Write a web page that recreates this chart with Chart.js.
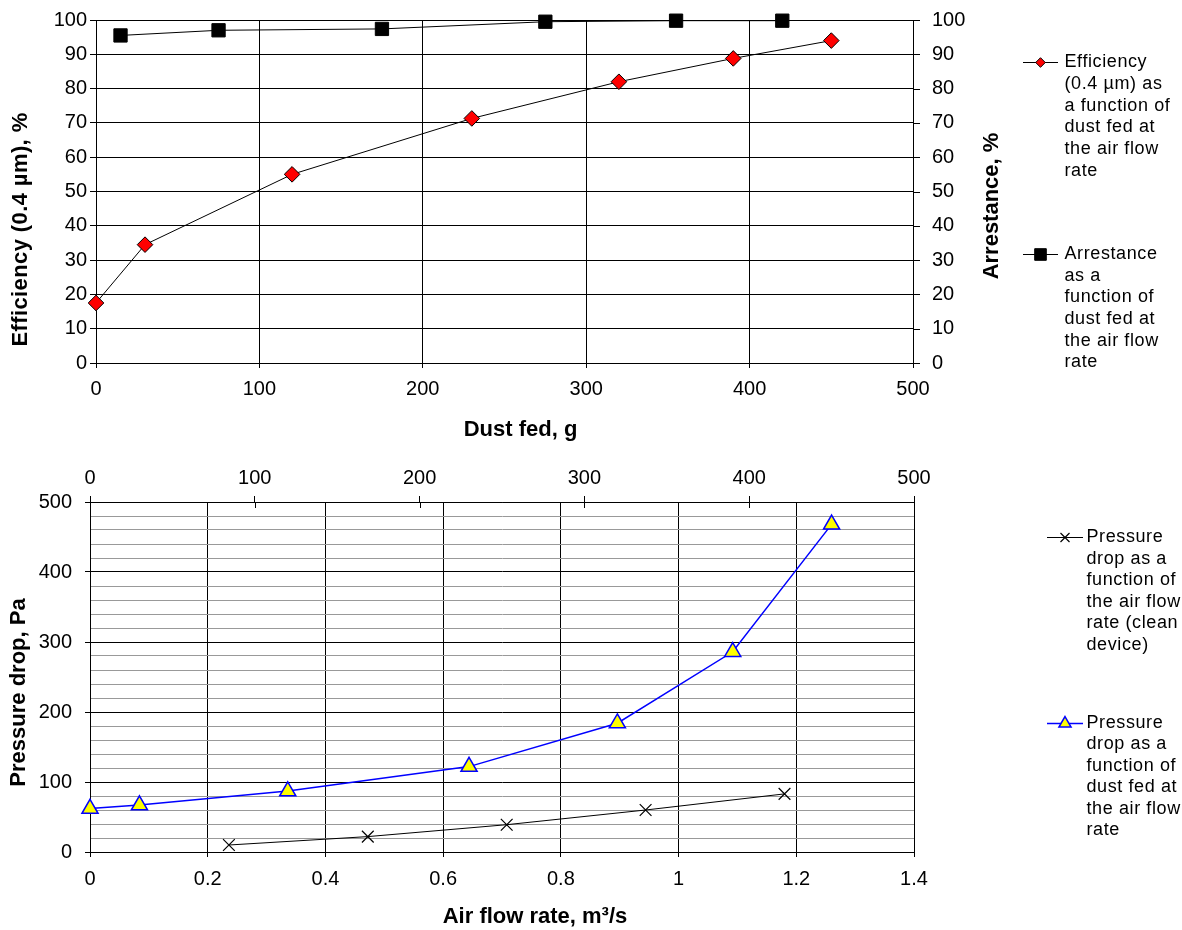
<!DOCTYPE html>
<html><head><meta charset="utf-8">
<style>
html,body{margin:0;padding:0;background:#fff;}
#wrap{position:relative;width:1182px;height:930px;overflow:hidden;background:#fff;}
canvas{position:absolute;left:0;}
#c1{top:0;} #c2{top:450px;}
</style>
<script src="https://cdn.jsdelivr.net/npm/chart.js"></script>
</head><body>
<div id="wrap"><canvas id="c1" width="1182" height="450"></canvas><canvas id="c2" width="1182" height="480"></canvas></div>
<script>
const FONT = "'Liberation Sans', Arial, Helvetica, sans-serif";

// ---- Top chart data ----
const dustFedEfficiency = [0, 30, 120, 230, 320, 390, 450];
const efficiency = [17.5, 34.5, 55, 71.3, 82, 88.8, 94];
const dustFedArrestance = [15, 75, 175, 275, 355, 420];
const arrestance = [95.5, 97, 97.4, 99.5, 99.8, 99.8];

// ---- Bottom chart data ----
const airFlowRate = [0.236, 0.472, 0.708, 0.944, 1.18];
const pressureDropClean = [10, 22, 39, 60, 83];
const dustFedPressure = [0, 30, 120, 230, 320, 390, 450];
const pressureDropDust = [62, 67, 87, 122, 184, 286, 468];

// ---- Text ----
const legendEfficiency = ["Efficiency", "(0.4 µm) as", "a function of", "dust fed at", "the air flow", "rate"];
const legendArrestance = ["Arrestance", "as a", "function of", "dust fed at", "the air flow", "rate"];
const legendClean = ["Pressure", "drop as a", "function of", "the air flow", "rate (clean", "device)"];
const legendDust = ["Pressure", "drop as a", "function of", "dust fed at", "the air flow", "rate"];
const titleEfficiency = "Efficiency (0.4 µm), %";
const titleArrestance = "Arrestance, %";
const titleDustFed = "Dust fed, g";
const titlePressure = "Pressure drop, Pa";
const titleAirFlow = "Air flow rate, m³/s";

const toXY = (xs, ys) => xs.map((x, i) => ({x: x, y: ys[i]}));

function drawMarker(ctx, style, x, y, r, fill, stroke, lw) {
  ctx.save();
  ctx.fillStyle = fill; ctx.strokeStyle = stroke; ctx.lineWidth = lw;
  ctx.beginPath();
  if (style === 'rectRot') {
    ctx.moveTo(x - r, y); ctx.lineTo(x, y - r); ctx.lineTo(x + r, y); ctx.lineTo(x, y + r); ctx.closePath();
    ctx.fill(); ctx.stroke();
  } else if (style === 'rect') {
    ctx.rect(x - r, y - r, 2 * r, 2 * r); ctx.fill(); ctx.stroke();
  } else if (style === 'triangle') {
    ctx.moveTo(x, y - r); ctx.lineTo(x + r * 0.866, y + r * 0.5); ctx.lineTo(x - r * 0.866, y + r * 0.5); ctx.closePath();
    ctx.fill(); ctx.stroke();
  } else if (style === 'crossRot') {
    ctx.moveTo(x - r, y - r); ctx.lineTo(x + r, y + r); ctx.moveTo(x + r, y - r); ctx.lineTo(x - r, y + r); ctx.stroke();
  }
  ctx.restore();
}

const decor = {
  id: 'decor',
  afterDraw(chart, args, opts) {
    const ctx = chart.ctx;
    ctx.save();
    (opts.titles || []).forEach(t => {
      ctx.save();
      ctx.translate(t.x, t.y);
      ctx.rotate(t.rot || 0);
      ctx.font = 'bold 22px ' + FONT;
      if ('letterSpacing' in ctx) ctx.letterSpacing = (t.ls || 0) + 'px';
      ctx.fillStyle = '#000';
      ctx.textAlign = 'center';
      ctx.textBaseline = 'middle';
      ctx.fillText(t.text, 0, 0);
      ctx.restore();
    });
    (opts.legend || []).forEach(item => {
      const ds = chart.data.datasets[item.dataset];
      ctx.strokeStyle = ds.borderColor; ctx.lineWidth = ds.borderWidth;
      ctx.beginPath(); ctx.moveTo(item.x1, item.y + 0.5); ctx.lineTo(item.x2, item.y + 0.5); ctx.stroke();
      drawMarker(ctx, ds.pointStyle, (item.x1 + item.x2) / 2, item.y + 0.5, item.r,
                 ds.pointBackgroundColor, ds.pointBorderColor, ds.pointBorderWidth);
      ctx.save();
      ctx.font = '18px ' + FONT; ctx.textAlign = 'left'; ctx.textBaseline = 'middle'; ctx.fillStyle = '#000';
      if ('letterSpacing' in ctx) ctx.letterSpacing = '0.6px';
      item.lines.forEach((s, i) => ctx.fillText(s, item.tx, item.y + i * item.lh));
      ctx.restore();
    });
    // inward tick halves on the top axis of the lower chart
    if (opts.innerTicks) {
      const s = chart.scales[opts.innerTicks];
      ctx.strokeStyle = '#000'; ctx.lineWidth = 1;
      s.ticks.forEach(t => {
        const px = Math.round(s.getPixelForValue(t.value)) + 0.5;
        ctx.beginPath(); ctx.moveTo(px, s.bottom); ctx.lineTo(px, s.bottom + 6); ctx.stroke();
      });
    }
    // short outward tick marks on the right value axis
    if (opts.rightTicks) {
      const s = chart.scales[opts.rightTicks];
      ctx.strokeStyle = '#000'; ctx.lineWidth = 1;
      s.ticks.forEach(t => {
        const py = Math.round(s.getPixelForValue(t.value)) + 0.5;
        ctx.beginPath(); ctx.moveTo(s.left, py); ctx.lineTo(s.left + 7, py); ctx.stroke();
      });
    }
    ctx.restore();
  }
};

const tickFont = {family: FONT, size: 20};

// ---------- Top chart ----------
new Chart(document.getElementById('c1'), {
  type: 'scatter',
  data: {
    datasets: [
      {
        label: legendEfficiency.join(' '),
        data: toXY(dustFedEfficiency, efficiency),
        showLine: true, borderColor: '#000', borderWidth: 1, backgroundColor: '#ff0000',
        pointStyle: 'rectRot', pointRadius: 7.8, pointHoverRadius: 7.8,
        pointBackgroundColor: '#ff0000', pointBorderColor: '#000', pointBorderWidth: 1,
        xAxisID: 'x', yAxisID: 'y', clip: false, order: 1
      },
      {
        label: legendArrestance.join(' '),
        data: toXY(dustFedArrestance, arrestance),
        showLine: true, borderColor: '#000', borderWidth: 1, backgroundColor: '#000',
        pointStyle: 'rect', pointRadius: 9.4, pointHoverRadius: 9.4,
        pointBackgroundColor: '#000', pointBorderColor: '#000', pointBorderWidth: 1,
        xAxisID: 'x', yAxisID: 'y2', clip: false, order: 0
      }
    ]
  },
  options: {
    responsive: false, animation: false, devicePixelRatio: 1,
    layout: {autoPadding: false, padding: {left: 0, right: 172, top: 20, bottom: 0}},
    plugins: {
      legend: {display: false}, tooltip: {enabled: false},
      decor: {
        rightTicks: 'y2',
        titles: [
          {text: titleEfficiency, x: 21, y: 229.5, rot: -Math.PI / 2, ls: 0.4},
          {text: titleArrestance, x: 992, y: 206, rot: -Math.PI / 2},
          {text: titleDustFed, x: 520.5, y: 430}
        ],
        legend: [
          {dataset: 0, x1: 1023, x2: 1058, y: 62, r: 4.8, tx: 1064.5, lh: 21.8, lines: legendEfficiency},
          {dataset: 1, x1: 1023, x2: 1058, y: 254, r: 5.8, tx: 1064.5, lh: 21.7, lines: legendArrestance}
        ]
      }
    },
    scales: {
      x: {
        type: 'linear', position: 'bottom', min: 0, max: 500,
        ticks: {stepSize: 100, color: '#000', font: tickFont, padding: 9, autoSkip: false, maxRotation: 0},
        grid: {color: '#000', lineWidth: 1, tickLength: 5, tickColor: '#000'},
        border: {color: '#000', width: 1},
        afterFit: s => { s.height = 87; }
      },
      y: {
        type: 'linear', position: 'left', min: 0, max: 100,
        ticks: {stepSize: 10, color: '#000', font: tickFont, padding: 3, autoSkip: false},
        grid: {color: '#000', lineWidth: 1, tickLength: 6, tickColor: '#000'},
        border: {color: '#000', width: 1},
        afterFit: s => { s.width = 96; }
      },
      y2: {
        type: 'linear', position: 'right', min: 0, max: 100,
        ticks: {stepSize: 10, color: '#000', font: tickFont, padding: 0, autoSkip: false},
        grid: {drawOnChartArea: false, color: '#000', lineWidth: 1, tickLength: 19, tickColor: 'rgba(0,0,0,0)'},
        border: {color: '#000', width: 1},
        afterFit: s => { s.width = 97; }
      }
    }
  },
  plugins: [decor]
});

// ---------- Bottom chart ----------
const isMajor = v => Math.round(v) % 100 === 0;
new Chart(document.getElementById('c2'), {
  type: 'scatter',
  data: {
    datasets: [
      {
        label: legendClean.join(' '),
        data: toXY(airFlowRate, pressureDropClean),
        showLine: true, borderColor: '#000', borderWidth: 1, backgroundColor: '#000',
        pointStyle: 'crossRot', pointRadius: 8.3, pointHoverRadius: 8.3,
        pointBackgroundColor: '#000', pointBorderColor: '#000', pointBorderWidth: 1.2,
        xAxisID: 'x', yAxisID: 'y', clip: false, order: 1
      },
      {
        label: legendDust.join(' '),
        data: toXY(dustFedPressure, pressureDropDust),
        showLine: true, borderColor: '#0000ff', borderWidth: 1.5, backgroundColor: '#ffff00',
        pointStyle: 'triangle', pointRadius: 9.3, pointHoverRadius: 9.3,
        pointBackgroundColor: '#ffff00', pointBorderColor: '#0000ff', pointBorderWidth: 1.5,
        xAxisID: 'x2', yAxisID: 'y', clip: false, order: 0
      }
    ]
  },
  options: {
    responsive: false, animation: false, devicePixelRatio: 1,
    layout: {autoPadding: false, padding: {left: 0, right: 268, top: 0, bottom: 0}},
    plugins: {
      legend: {display: false}, tooltip: {enabled: false},
      decor: {
        innerTicks: 'x2',
        titles: [
          {text: titlePressure, x: 18.5, y: 242.5, rot: -Math.PI / 2},
          {text: titleAirFlow, x: 535, y: 467}
        ],
        legend: [
          {dataset: 0, x1: 1047, x2: 1083, y: 87, r: 4.5, tx: 1086.5, lh: 21.6, lines: legendClean},
          {dataset: 1, x1: 1047, x2: 1083, y: 273, r: 7, tx: 1086.5, lh: 21.5, lines: legendDust}
        ]
      }
    },
    scales: {
      x: {
        type: 'linear', position: 'bottom', min: 0, max: 1.4,
        ticks: {stepSize: 0.2, color: '#000', font: tickFont, padding: 10, autoSkip: false, maxRotation: 0,
                callback: v => String(+(+v).toFixed(1))},
        grid: {color: '#000', lineWidth: 1, tickLength: 5, tickColor: '#000'},
        border: {color: '#000', width: 1},
        afterFit: s => { s.height = 78; }
      },
      x2: {
        type: 'linear', position: 'top', min: 0, max: 500,
        ticks: {stepSize: 100, color: '#000', font: tickFont, padding: 6, autoSkip: false, maxRotation: 0},
        grid: {drawOnChartArea: false, color: '#000', lineWidth: 1, tickLength: 6, tickColor: '#000'},
        border: {color: '#000', width: 1},
        afterFit: s => { s.height = 52; }
      },
      y: {
        type: 'linear', position: 'left', min: 0, max: 500,
        ticks: {stepSize: 20, color: '#000', font: tickFont, padding: 13, autoSkip: false,
                callback: v => isMajor(v) ? String(v) : ''},
        grid: {
          color: c => (c.tick && isMajor(c.tick.value)) ? '#000' : '#999',
          tickColor: c => (c.tick && isMajor(c.tick.value)) ? '#000' : 'rgba(0,0,0,0)',
          lineWidth: 1, tickLength: 5
        },
        border: {color: '#000', width: 1},
        afterFit: s => { s.width = 90; }
      }
    }
  },
  plugins: [decor]
});
</script>
</body></html>
